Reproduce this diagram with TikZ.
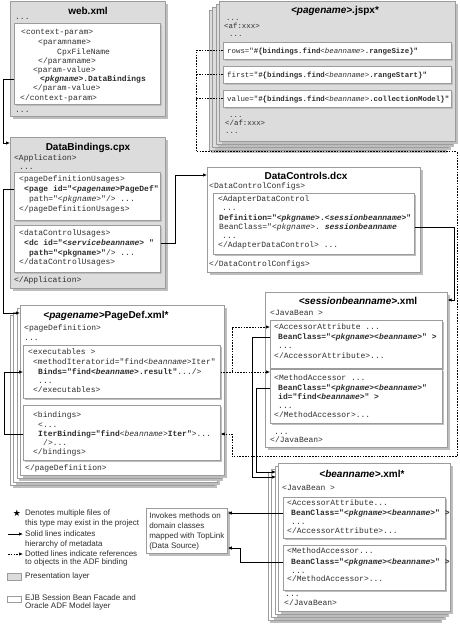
\documentclass[tikz,border=0pt]{standalone}
\usepackage{fontspec}
\setmainfont{Liberation Sans}
\setmonofont{Liberation Mono}
\newfontfamily\starfont{DejaVu Sans}
\usetikzlibrary{shadows,arrows.meta}

\definecolor{layergray}{HTML}{DCDCDC}
\definecolor{edgegray}{HTML}{9C9C9C}
\definecolor{shadegray}{HTML}{BEBEBE}
\definecolor{inkgray}{HTML}{2E2E2E}

\newcommand{\vn}[1]{<\textit{#1}>}

\tikzset{
  filebox/.style={draw=edgegray, line width=.6pt, anchor=north west, inner sep=0pt,
    drop shadow={shadow xshift=2.5pt, shadow yshift=-2.5pt, fill=shadegray, opacity=1}},
  presbox/.style={filebox, fill=layergray},
  modelbox/.style={filebox, fill=white},
  tagbox/.style={draw=edgegray, line width=.6pt, anchor=north west, inner sep=0pt, fill=white,
    drop shadow={shadow xshift=2pt, shadow yshift=-2pt, fill=shadegray, opacity=1}},
  keybox/.style={draw=edgegray, line width=.6pt, anchor=north west, inner sep=0pt},
  code/.style={anchor=west, inner sep=0pt, text=inkgray, text height=5.5pt, text depth=1.5pt,
    font=\ttfamily\fontsize{8}{9.6}\selectfont},
  smallcode/.style={code, font=\ttfamily\fontsize{7.4}{9}\selectfont},
  filetitle/.style={inner sep=0pt, font=\bfseries\fontsize{10}{12}\selectfont},
  note/.style={anchor=west, inner sep=0pt, text=inkgray, text height=5.5pt, text depth=1.5pt,
    font=\fontsize{8}{9.6}\selectfont},
  link/.style={-{Latex[length=4pt,width=3.4pt]}, line width=.7pt},
  bus/.style={line width=.7pt, dash pattern=on 1.6pt off 1.2pt},
  ref/.style={bus, -{Latex[length=4pt,width=3.4pt]}},
}

\begin{document}
\begin{tikzpicture}[x=1pt,y=-1pt]
  \useasboundingbox (0,0) rectangle (459,627);

  % web.xml
  \node[presbox, minimum width=155pt, minimum height=115pt] (web) at (10,1) {};
  \node[filetitle] (webtitle) at (88,11) {web.xml};
  \node[code] (webdots) at (15,17) {...};
  \node[tagbox, minimum width=146pt, minimum height=81pt] (webin) at (14,23) {};
  \node[code] (web1) at (21,32) {<context-param>};
  \node[code] (web2) at (38,42) {<paramname>};
  \node[code] (web3) at (57,52) {CpxFileName};
  \node[code] (web4) at (38,61) {</paramname>};
  \node[code] (web5) at (33,70) {<param-value>};
  \node[code] (webpkg) at (40,79) {\textbf{\vn{pkgname}.DataBindings}};
  \node[code] (web7) at (33,88) {</param-value>};
  \node[code] (web8) at (20,98) {</context-param>};
  \node[code] (webend) at (15,110) {...};

  % DataBindings.cpx
  \node[presbox, minimum width=155pt, minimum height=151pt] (cpx) at (10,137) {};
  \node[filetitle] (cpxtitle) at (88,148) {DataBindings.cpx};
  \node[code] (cpx1) at (14,158) {<Application>};
  \node[code] (cpx2) at (19,167) {...};
  \node[tagbox, minimum width=146pt, minimum height=48pt] (pdu) at (14,172) {};
  \node[code] (pdu1) at (19,179) {<pageDefinitionUsages>};
  \node[code] (pageid) at (24,189) {\textbf{<page id="\vn{pagename}PageDef"}};
  \node[code] (pdu3) at (29,199) {path="\vn{pkgname}"/> ...};
  \node[code] (pdu4) at (19,209) {</pageDefinitionUsages>};
  \node[tagbox, minimum width=146pt, minimum height=47pt] (dcu) at (14,225) {};
  \node[code] (dcu1) at (19,233) {<dataControlUsages>};
  \node[code] (dcid) at (24,243) {\textbf{<dc id="\vn{servicebeanname} "}};
  \node[code] (dcu3) at (29,253) {\textbf{path="<pkgname>"}/> ...};
  \node[code] (dcu4) at (19,262) {</dataControlUsages>};
  \node[code] (cpxend) at (14,280) {</Application>};

  % DataControls.dcx
  \node[modelbox, minimum width=213pt, minimum height=105pt] (dcx) at (207,167) {};
  \node[filetitle] (dcxtitle) at (306,176) {DataControls.dcx};
  \node[code] (dcx1) at (209,186) {<DataControlConfigs>};
  \node[tagbox, minimum width=201pt, minimum height=61pt] (adc) at (213,193) {};
  \node[code] (adc1) at (218,199) {<AdapterDataControl};
  \node[code] (adc2) at (222,208.5) {...};
  \node[code] (adc3) at (219,218) {\textbf{Definition="\vn{pkgname}.\vn{sessionbeanname}"}};
  \node[code] (adcbean) at (219,227) {BeanClass="\vn{pkgname}. \textbf{\textit{sessionbeanname}}};
  \node[code] (adc5) at (222,236) {...};
  \node[code] (adc6) at (218,245) {</AdapterDataControl> ...};
  \node[code] (dcxend) at (209,264) {</DataControlConfigs>};

  % <pagename>.jspx*, stacked
  \foreach \k in {3,2,1}
    \node[presbox, minimum width=236pt, minimum height=140pt] (jspx\k) at ({219-3.5*\k},{1+3*\k}) {};
  \node[presbox, minimum width=236pt, minimum height=140pt] (jspx) at (219,1) {};
  \node[filetitle] (jspxtitle) at (335,11) {\textit{<pagename>}.jspx*};
  \node[smallcode] (jspx1) at (226,18) {...};
  \node[smallcode] (jspx2) at (224,26) {<af:xxx>};
  \node[smallcode] (jspx3) at (229,34) {...};
  \node[tagbox, minimum width=228pt, minimum height=17pt] (rowsbox) at (223,42) {};
  \node[smallcode] (rows) at (227,51) {rows="\textbf{\#\{bindings.find{\mdseries\vn{beanname}}.rangeSize\}"}};
  \node[tagbox, minimum width=228pt, minimum height=17pt] (firstbox) at (223,66) {};
  \node[smallcode] (first) at (227,75) {first="\textbf{\#\{bindings.find{\mdseries\vn{beanname}}.rangeStart\}"}};
  \node[tagbox, minimum width=228pt, minimum height=17pt] (valuebox) at (223,90) {};
  \node[smallcode] (value) at (227,99) {value="\textbf{\#\{bindings.find{\mdseries\vn{beanname}}.collectionModel\}"}};
  \node[smallcode] (jspx4) at (229,115) {...};
  \node[smallcode] (jspx5) at (225,123) {</af:xxx>};
  \node[smallcode] (jspx6) at (225,131) {...};

  % <pagename>PageDef.xml*, stacked
  \foreach \k in {3,2,1}
    \node[modelbox, minimum width=204pt, minimum height=170pt] (pdef\k) at ({20-3.4*\k},{305+3.4*\k}) {};
  \node[modelbox, minimum width=204pt, minimum height=170pt] (pdef) at (20,305) {};
  \node[filetitle] (pdeftitle) at (106,316) {\textit{<pagename>}PageDef.xml*};
  \node[code] (pdef1) at (24,328) {<pageDefinition>};
  \node[code] (pdef2) at (24,338) {...};
  \node[tagbox, minimum width=197pt, minimum height=53pt] (exec) at (23,345) {};
  \node[code] (exec1) at (28,352) {<executables >};
  \node[code] (exec2) at (33,362) {<methodIteratorid="find\vn{beanname}Iter"};
  \node[code] (binds) at (38,372) {\textbf{Binds="find\vn{beanname}.result"}.../>};
  \node[code] (exec4) at (38,381) {...};
  \node[code] (exec5) at (33,390) {</executables>};
  \node[tagbox, minimum width=197pt, minimum height=55pt] (bind) at (23,405) {};
  \node[code] (bind1) at (33,415) {<bindings>};
  \node[code] (bind2) at (38,425) {<...};
  \node[code] (iterbind) at (38,434) {\textbf{IterBinding="find}\vn{beanname}\textbf{Iter"}>...};
  \node[code] (bind4) at (43,443) {/>...};
  \node[code] (bind5) at (33,452) {</bindings>};
  \node[code] (pdefend) at (25,468) {</pageDefinition>};

  % <sessionbeanname>.xml
  \node[modelbox, minimum width=182pt, minimum height=155pt] (sess) at (265,292) {};
  \node[filetitle] (sesstitle) at (358,301) {\textit{<sessionbeanname>}.xml};
  \node[code] (sess1) at (270,313) {<JavaBean >};
  \node[tagbox, minimum width=172pt, minimum height=48pt] (sacc) at (270,320) {};
  \node[code] (sacc1) at (274,327) {<AccessorAttribute ...};
  \node[code] (saccbean) at (278,337) {\textbf{BeanClass="\vn{pkgname}\vn{beanname}" >}};
  \node[code] (sacc3) at (278,346) {...};
  \node[code] (sacc4) at (274,356) {</AccessorAttribute>...};
  \node[tagbox, minimum width=172pt, minimum height=54pt] (smeth) at (270,369) {};
  \node[code] (smeth1) at (274,378) {<MethodAccessor ...};
  \node[code] (smethbean) at (278,388) {\textbf{BeanClass="\vn{pkgname}\vn{beanname}"}};
  \node[code] (smeth3) at (278,397) {\textbf{id="find\vn{beanname}" >}};
  \node[code] (smeth4) at (278,406) {...};
  \node[code] (smeth5) at (274,415) {</MethodAccessor>...};
  \node[code] (sess2) at (274,432) {...};
  \node[code] (sessend) at (270,440) {</JavaBean>};

  % <beanname>.xml*, stacked
  \foreach \k in {3,2,1}
    \node[modelbox, minimum width=172pt, minimum height=148pt] (bean\k) at ({278-3.5*\k},{463+3*\k}) {};
  \node[modelbox, minimum width=172pt, minimum height=148pt] (bean) at (278,463) {};
  \node[filetitle] (beantitle) at (362,474) {\textit{<beanname>}.xml*};
  \node[code] (bean1) at (282,488) {<JavaBean >};
  \node[tagbox, minimum width=162pt, minimum height=41pt] (bacc) at (283,497) {};
  \node[code] (bacc1) at (287,503) {<AccessorAttribute...};
  \node[code] (baccbean) at (291,513) {\textbf{BeanClass="\vn{pkgname}\vn{beanname}" >}};
  \node[code] (bacc3) at (291,522) {...};
  \node[code] (bacc4) at (287,531) {</AccessorAttribute>...};
  \node[tagbox, minimum width=162pt, minimum height=45pt] (bmeth) at (283,545) {};
  \node[code] (bmeth1) at (287,551) {<MethodAccessor...};
  \node[code] (bmethbean) at (291,562) {\textbf{BeanClass="\vn{pkgname}\vn{beanname}" >}};
  \node[code] (bmeth3) at (291,571) {...};
  \node[code] (bmeth4) at (287,579) {</MethodAccessor>...};
  \node[code] (bean2) at (285,594) {...};
  \node[code] (beanend) at (284,603) {</JavaBean>};

  % data source note
  \node[modelbox, align=left, inner xsep=3pt, inner ysep=4pt, text=inkgray,
    font=\fontsize{8}{10}\selectfont] (toplink) at (146,508)
    {Invokes methods on\\domain classes\\mapped with TopLink\\(Data Source)};

  % solid links
  \draw[link] (webpkg.west -| webin.west) -- ++(-11,0) |- ([yshift=-6pt]cpx.north west);
  \draw[link] (pageid.west -| pdu.west) -- ++(-11,0) |- ([yshift=-8pt]pdef.north west);
  \draw[link] (dcid.west -| dcu.east) -- ++(15,0) |- ([yshift=-8pt]dcx.north west);
  \draw[link] (adcbean.west -| adc.east) -- ++(40,0) |- ([yshift=-8pt]sess.north east);
  \draw[link] (iterbind.west -| bind.west) -- ++(-19,0) |- (binds.west -| exec.west);
  \draw[link] (saccbean.west -| sacc.west) -- ++(-18,0) |- ([yshift=-14pt,xshift=-2pt]bean.north west);
  \draw[link] (smethbean.west -| smeth.west) -- ++(-14,0) |- ([yshift=-9pt,xshift=-2pt]bean.north west);
  \draw[link] (baccbean.west -| bacc.west) -- (baccbean.west -| toplink.east);
  \draw[link] (bmethbean.west -| bmeth.west) -- ++(-43,0) |- ([yshift=6pt]toplink.south east);

  % dotted references
  \draw[bus] (firstbox.west) -- ++(-27,0);
  \draw[bus] (valuebox.west) -- ++(-27,0);
  \draw[ref] (rowsbox.west) -- ++(-27,0) -- ++(0,101) -- ++(261,0) -- ++(0,305) -- ++(-225,0)
    |- (iterbind.west -| bind.east);
  \draw[ref] (binds.west -| exec.east) -- (binds.west -| smeth.west);
  \draw[ref] ([xshift=12pt]binds.west -| exec.east) |- (sacc1.west -| sacc.west);

  % legend
  \node[inner sep=0pt, font=\starfont\fontsize{9}{9}\selectfont] (star) at (17,513) {★};
  \node[note] (key1) at (25,513) {Denotes multiple files of};
  \node[note] (key1b) at (25,523) {this type may exist in the project};
  \node[note] (key2) at (25,534) {Solid lines indicates};
  \node[note] (key2b) at (25,544) {hierarchy of metadata};
  \node[note] (key3) at (25,554) {Dotted lines indicate references};
  \node[note] (key3b) at (25,562) {to objects in the ADF binding};
  \node[keybox, fill=layergray, minimum width=14pt, minimum height=7pt] (preskey) at (7,573) {};
  \node[note] (key4) at (25,576) {Presentation layer};
  \node[keybox, fill=white, minimum width=14pt, minimum height=6pt] (modelkey) at (7,596) {};
  \node[note] (key5) at (25,598) {EJB Session Bean Facade and};
  \node[note] (key5b) at (25,606) {Oracle ADF Model layer};
  \draw[link] ([xshift=-17pt]key2.west) -- ([xshift=-2pt]key2.west);
  \draw[ref] ([xshift=-17pt]key3.west) -- ([xshift=-2pt]key3.west);
\end{tikzpicture}
\end{document}
